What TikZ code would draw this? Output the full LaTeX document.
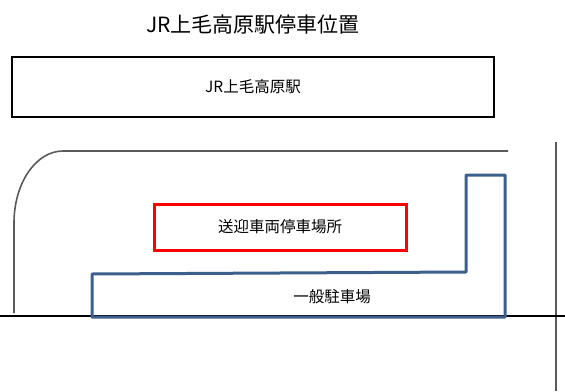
\documentclass[tikz,border=0pt]{standalone}
\usepackage{fontspec}
\newfontfamily\jp{Noto Sans CJK JP}
\definecolor{lotblue}{RGB}{60,95,140}
\definecolor{roadgray}{RGB}{90,90,90}
\begin{document}
\begin{tikzpicture}[x=1pt,y=-1pt,
  titletext/.style={font=\jp\fontsize{21}{24}\selectfont, inner sep=0pt},
  label/.style={font=\jp\fontsize{15.5}{18}\selectfont, inner sep=0pt},
  stationbox/.style={draw=black, line width=2.4pt, minimum width=482pt, minimum height=60pt, inner sep=0pt},
  pickupbox/.style={draw=red, line width=3pt, minimum width=252pt, minimum height=46pt, inner sep=0pt},
  lot/.style={draw=lotblue, line width=3pt, line join=round},
  road/.style={draw=roadgray, line width=1.6pt},
  ground/.style={draw=black, line width=1.2pt}]
\useasboundingbox (0,0) rectangle (565,391);
\node[titletext] (title) at (253,25) {JR上毛高原駅停車位置};
\node[stationbox, label] (station) at (253,87) {JR上毛高原駅};
% road edge
\draw[road] (14,313) -- (14,223) .. controls (14,183) and (36,151) .. (63,151) -- (508,151);
\draw[road] (556,142) -- (556,391);
\draw[ground] (0,316) -- (565,316);
% parking lot
\draw[lot] (92,274) -- (466,272) -- (466,175) -- (505,175) -- (505,317) -- (92,317) -- cycle;
\node[label] (lotlabel) at (332,297) {一般駐車場};
% pick-up area
\node[pickupbox, label, fill=white] (pickup) at (280,227) {送迎車両停車場所};
\end{tikzpicture}
\end{document}
